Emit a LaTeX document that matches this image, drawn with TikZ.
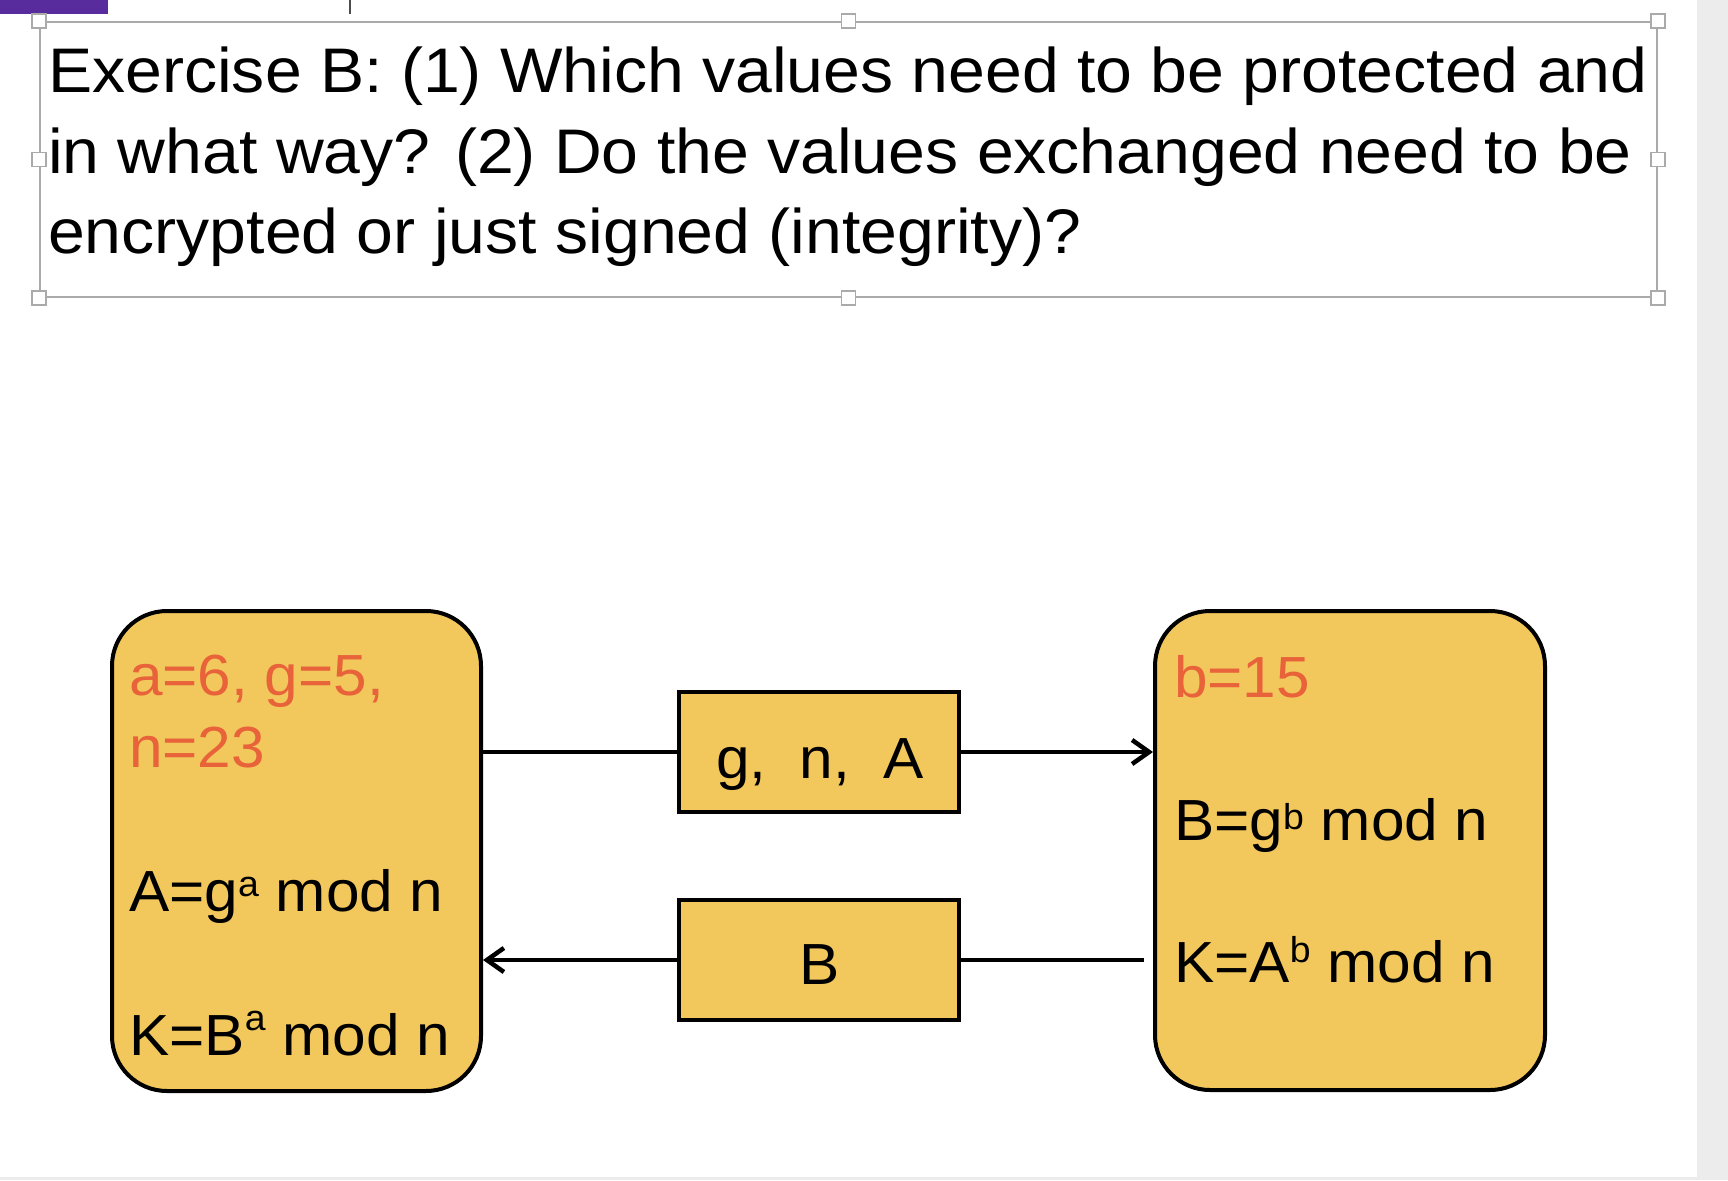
\documentclass[tikz,border=0pt]{standalone}
\usepackage{fontspec}
\setmainfont{Liberation Sans}[FakeStretch=1.04]
\newfontfamily\questionfont{Liberation Sans}[FakeStretch=1.05]
\usetikzlibrary{arrows.meta}

\definecolor{boxfill}{RGB}{242,200,92}
\definecolor{valred}{RGB}{232,98,58}
\definecolor{framegray}{RGB}{170,170,170}
\definecolor{tabpurple}{RGB}{88,44,156}
\definecolor{sidegray}{RGB}{236,236,236}

\newcommand{\pw}[2][25pt]{\raisebox{#1}{\fontsize{36}{36}\selectfont #2}}

\tikzset{
  party/.style={draw=black, line width=4pt, fill=boxfill, rounded corners=55pt, inner sep=0pt},
  msg/.style={draw=black, line width=4pt, fill=boxfill, inner sep=0pt, minimum width=280pt, minimum height=120pt},
  txt/.style={anchor=base west, inner sep=0pt, font=\fontsize{58}{70}\selectfont},
  qtxt/.style={anchor=base west, inner sep=0pt, font=\questionfont\fontsize{63}{80}\selectfont},
  handle/.style={draw=framegray, fill=white, line width=1.5pt, minimum size=14pt, inner sep=0pt},
  flow/.style={line width=4pt, -{Straight Barb[length=17pt,width=24pt,line width=4.5pt]}}
}

\begin{document}
\begin{tikzpicture}[x=1pt,y=-1pt]
	\useasboundingbox (0,0) rectangle (1728,1180);
	\fill[white] (0,0) rectangle (1728,1180);
	\fill[sidegray] (1697,0) rectangle (1728,1180);
	\fill[sidegray] (0,1177) rectangle (1697,1180);
	\fill[tabpurple] (0,0) rectangle (108,14);
	\draw[line width=2pt, black!70] (350,0) -- (350,14);
	% question frame
	\node[draw=framegray, line width=2pt, minimum width=1617pt, minimum height=275pt, inner sep=0pt] (frame) at (848.5,159.5) {};
	\foreach \a in {north west,north,north east,east,south east,south,south west,west}
		\node[handle] at (frame.\a) {};
	\node[qtxt] (q1) at (48,93) {Exercise B: (1) Which values need to be protected and};
	\node[qtxt] (q2) at (48,173) {in what way? (2) Do the values exchanged need to be};
	\node[qtxt] (q3) at (48,253) {encrypted or just signed (integrity)?};
	% the two parties
	\node[party, minimum width=369pt, minimum height=480pt] (alice) at (296.5,851) {};
	\node[party, minimum width=390pt, minimum height=479pt] (bob) at (1350,850.5) {};
	\node[txt, text=valred] (apar1) at (129,695) {a=6, g=5,};
	\node[txt, text=valred] (apar2) at (129,767) {n=23};
	\node[txt] (acalc) at (129,911) {A=g\pw[15pt]{a} mod n};
	\node[txt] (akey) at (129,1055) {K=B\pw{a} mod n};
	\node[txt, text=valred] (bpar) at (1174,697) {b=15};
	\node[txt] (bcalc) at (1174,840) {B=g\pw[11pt]{b} mod n};
	\node[txt] (bkey) at (1174,982) {K=A\pw[20pt]{b} mod n};
	% messages
	\node[msg] (sendA) at (819,752) {};
	\node[msg] (sendB) at (819,960) {};
	\node[txt, anchor=base] (sendAtxt) at (820,778) {g,\ \ n,\ \ A};
	\node[txt, anchor=base] (sendBtxt) at (820,984) {B};
	\draw[line width=4pt] (sendA.west -| alice.east) -- (sendA.west);
	\draw[flow] (sendA.east) -- (sendA.east -| bob.west);
	\draw[line width=4pt, shorten <=9pt] (sendB.east -| bob.west) -- (sendB.east);
	\draw[flow] (sendB.west) -- (sendB.west -| alice.east);
\end{tikzpicture}
\end{document}
